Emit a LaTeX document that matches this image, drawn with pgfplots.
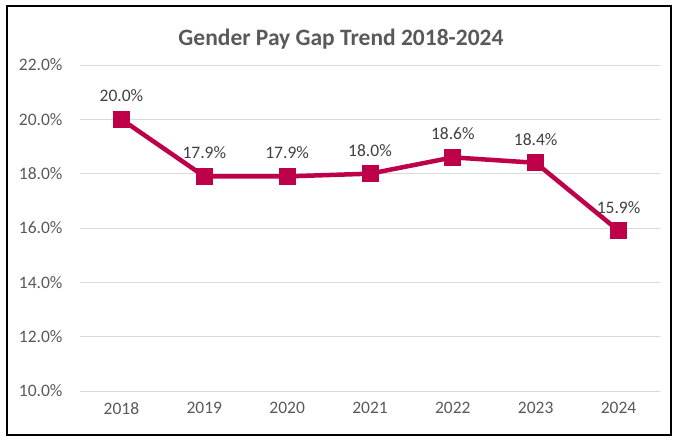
\documentclass[border=0pt]{standalone}
\usepackage{pgfplots}
\pgfplotsset{compat=1.18}
\usepackage{fontspec}
\setmainfont{Carlito}
\definecolor{linec}{RGB}{190,0,74}
\definecolor{txt}{RGB}{89,89,89}
\definecolor{lbl}{RGB}{64,64,64}
\definecolor{gridc}{RGB}{217,217,217}
\begin{document}
\begin{tikzpicture}[x=1pt,y=1pt]
\path[use as bounding box] (-80,-54) rectangle (597,391);
\begin{axis}[
  at={(0,0)}, anchor=south west,
  scale only axis, width=580pt, height=326pt,
  xmin=-0.5, xmax=6.5, ymin=10, ymax=22,
  xtick={0,...,6},
  xticklabels={2018,2019,2020,2021,2022,2023,2024},
  ytick={10,12,...,22},
  yticklabel={\pgfmathprintnumber[fixed,fixed zerofill,precision=1]{\tick}\%},
  axis line style={draw=none},
  major tick length=0pt,
  ymajorgrids, xmajorgrids=false, major grid style={draw=gridc, line width=0.8pt},
  tick label style={font=\fontsize{17.5}{19}\selectfont, text=txt},
  /pgf/number format/assume math mode=true,
  xticklabel style={yshift=-8pt},
  yticklabel style={xshift=-14pt},
  clip=false,
]
\addplot[linec, line width=4.5pt, mark=square*, mark size=8pt,
  mark options={solid, line width=0pt, fill=linec},
  nodes near coords={\pgfmathprintnumber[fixed,fixed zerofill,precision=1]{\pgfplotspointmeta}\%},
  every node near coord/.append style={font=\fontsize{17.5}{19}\selectfont, text=lbl, yshift=14pt, /pgf/number format/assume math mode=true},
] coordinates {(0,20.0) (1,17.9) (2,17.9) (3,18.0) (4,18.6) (5,18.4) (6,15.9)};
\end{axis}
\node[font=\bfseries\fontsize{23.5}{27}\selectfont, text=txt] at (261,352) {Gender Pay Gap Trend 2018-2024};
\draw[black, line width=1.2pt] (-73,-44) rectangle (591,385);
\end{tikzpicture}
\end{document}
